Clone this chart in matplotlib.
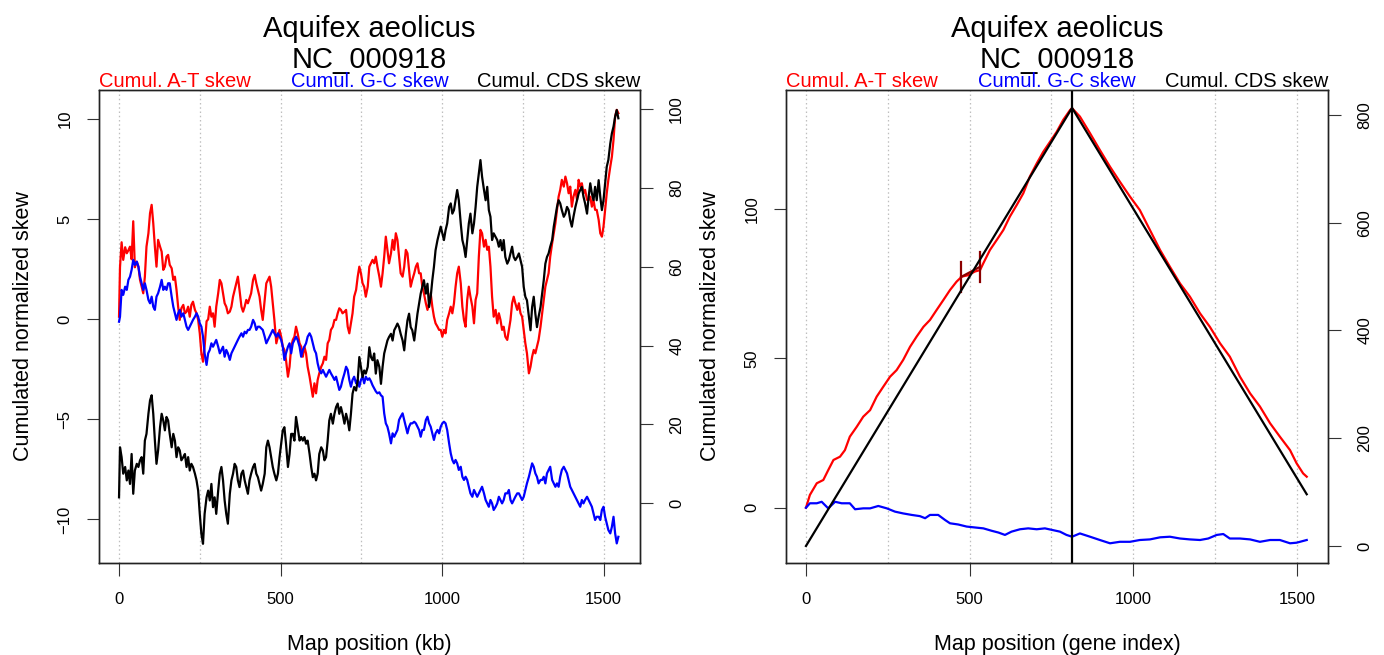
import matplotlib
matplotlib.use("Agg")
import matplotlib.pyplot as plt

plt.rcParams['font.family'] = ['Liberation Sans', 'DejaVu Sans']

# ---------------- chromosome view (position in kb) ----------------
map_kb = [
    0, 3, 8, 13, 19, 24, 29, 34, 39, 44,
    49, 55, 60, 65, 70, 75, 80, 85, 91, 96,
    101, 106, 111, 116, 121, 127, 132, 137, 142, 147,
    152, 157, 163, 168, 173, 178, 183, 188, 193, 199,
    204, 209, 214, 219, 224, 229, 235, 240, 245, 250,
    255, 260, 265, 271, 276, 281, 286, 291, 296, 301,
    307, 312, 317, 322, 327, 332, 337, 343, 348, 353,
    358, 363, 368, 373, 379, 384, 389, 394, 399, 404,
    409, 415, 420, 425, 430, 435, 440, 445, 451, 456,
    461, 466, 471, 476, 481, 487, 492, 497, 502, 507,
    512, 517, 523, 528, 533, 538, 543, 548, 553, 559,
    564, 569, 574, 579, 584, 590, 595, 600, 605, 610,
    615, 620, 626, 631, 636, 641, 646, 651, 656, 662,
    667, 672, 677, 682, 687, 692, 698, 703, 708, 713,
    718, 723, 728, 734, 739, 744, 749, 754, 759, 764,
    770, 775, 780, 785, 790, 795, 800, 806,
    811, 816, 821, 826, 831, 836, 842, 847, 852, 857,
    862, 867, 872, 878, 883, 888, 893, 898, 903, 908,
    914, 919, 924, 929, 934, 939, 944, 950, 955, 960,
    965, 970, 975, 980, 986, 991, 996, 1001, 1006, 1011,
    1016, 1022, 1027, 1032, 1037, 1042, 1047, 1052, 1058, 1063,
    1068, 1073, 1078, 1083, 1088, 1094, 1099, 1104, 1109, 1114,
    1119, 1124, 1130, 1135, 1140, 1145, 1150, 1155, 1160, 1166,
    1171, 1176, 1181, 1186, 1191, 1196, 1202, 1207,
    1212, 1217, 1222, 1227, 1233, 1238, 1243, 1248, 1253, 1258,
    1263, 1269, 1274, 1279, 1284, 1289, 1294, 1299, 1305, 1310,
    1315, 1320, 1325, 1330, 1335, 1341, 1346, 1351, 1356, 1361,
    1366, 1371, 1377, 1382, 1387, 1392, 1397, 1402, 1407, 1413,
    1418, 1423, 1428, 1433, 1438, 1443, 1449, 1454, 1459, 1464,
    1469, 1474, 1479, 1485, 1490, 1495, 1500, 1505, 1510, 1515,
    1521, 1526, 1531, 1536, 1541, 1546,
]

at_skew_kb = [
    0.13, 2.6, 3.85, 2.97, 3.6, 3.3, 3.45, 3.63, 3.0, 4.9,
    2.6, 2.88, 2.63, 1.97, 1.63, 1.3, 2.13, 3.63, 4.3, 5.3,
    5.72, 4.8, 3.63, 2.63, 3.97, 3.63, 3.38, 2.47, 2.63, 3.13,
    3.22, 2.72, 2.55, 1.97, 2.13, 1.47, 0.63, -0.03, 0.55, 0.72,
    0.3, 0.38, 0.63, 0.13, 0.72, 0.88, 0.47, 0.3, -0.03, -0.7,
    -1.7, -2.12, -1.37, -0.1, 0.0, 0.63, 0.13, 0.3, -0.37, 0.63,
    1.3, 1.97, 1.8, 1.3, 0.8, 0.63, 0.3, 0.38, 0.63, 1.13,
    1.47, 1.8, 2.13, 1.47, 0.63, 0.38, 0.63, 0.97, 0.8, 1.05,
    1.3, 1.97, 2.22, 1.8, 1.47, 1.13, 0.47, -0.03, 0.97, 1.8,
    1.97, 2.13, 1.63, 0.8, -0.03, -1.2, -0.87, -0.53, -0.87, -1.37,
    -1.53, -2.03, -2.87, -2.37, -1.37, -1.03, -0.87, -0.37, -0.7, -1.2,
    -1.37, -1.87, -1.37, -1.7, -2.37, -2.87, -3.37, -3.87, -3.2, -3.7,
    -3.03, -2.7, -2.37, -2.2, -1.87, -2.03, -1.2, -1.03, -0.53, -0.37,
    -0.03, -0.03, 0.3, 0.55, 0.47, 0.3, 0.38, 0.47, -0.37, -0.7,
    -0.2, 0.3, 1.13, 1.47, 2.13, 2.63, 2.3, 1.8, 1.63, 1.13,
    1.63, 2.63, 2.8, 2.97, 2.8, 3.13, 2.63, 2.13,
    1.63, 2.3, 3.13, 4.13, 3.47, 2.8, 3.3, 3.97, 3.47, 4.3,
    3.97, 3.13, 2.3, 2.13, 2.63, 3.47, 3.3, 2.47, 1.63, 1.97,
    2.3, 2.63, 2.8, 2.3, 2.3, 1.63, 1.3, 0.8, 0.47, 0.8,
    1.3, 0.63, 0.13, -0.2, -0.37, -0.53, -0.53, -0.87, -0.53, -0.7,
    -0.03, 0.3, 0.63, 0.3, 0.8, 1.63, 2.3, 2.63, 1.8, 0.63,
    -0.03, -0.37, 0.97, 1.63, 1.13, 0.63, -0.2, 0.97, 1.3, 3.13,
    4.47, 4.3, 3.63, 3.97, 3.47, 3.63, 2.63, 1.13, 0.13, 0.47,
    -0.2, 0.3, -0.03, -0.53, -0.37, -0.87, -1.03, -0.53,
    -0.03, 0.8, 1.13, 0.8, 0.47, 0.8, 0.3, 0.13, -0.53, -1.2,
    -1.7, -2.7, -2.37, -1.87, -1.53, -1.7, -1.37, -1.03, -0.37, 0.3,
    0.97, 1.63, 1.97, 2.3, 3.13, 3.8, 4.3, 4.8, 5.47, 6.13,
    6.47, 6.97, 6.63, 7.13, 6.8, 6.3, 6.63, 5.63, 6.13, 6.47,
    5.97, 6.97, 6.63, 6.8, 6.3, 6.47, 5.97, 5.97, 6.13, 5.63,
    5.97, 5.47, 5.47, 4.97, 4.3, 4.13, 4.63, 5.47, 6.3, 6.97,
    7.63, 8.13, 8.97, 10.13, 10.47, 10.3,
]

gc_skew_kb = [
    -0.12, 0.13, 1.47, 1.22, 1.63, 1.47, 1.97, 2.13, 2.47, 2.97,
    2.72, 2.88, 2.63, 2.13, 1.8, 1.47, 1.8, 1.47, 0.97, 0.8,
    1.13, 0.63, 0.47, 1.13, 1.3, 1.63, 1.97, 1.47, 1.63, 1.47,
    1.8, 1.8, 1.13, 0.63, 0.3, -0.03, 0.3, 0.47, 0.13, 0.3,
    -0.03, -0.37, -0.53, -0.37, -0.2, -0.03, 0.13, 0.3, 0.13, -0.2,
    -0.37, -0.87, -1.7, -2.28, -1.7, -1.53, -1.2, -1.37, -1.2, -1.03,
    -1.37, -1.7, -1.53, -1.37, -1.87, -1.53, -1.7, -2.03, -1.7, -1.53,
    -1.37, -1.2, -1.03, -0.87, -0.7, -0.87, -0.62, -0.7, -0.53, -0.53,
    -0.37, -0.03, -0.2, -0.53, -0.37, -0.37, -0.45, -0.53, -0.87, -1.2,
    -1.03, -0.87, -0.7, -0.53, -0.7, -0.87, -0.7, -0.87, -1.03, -1.37,
    -2.03, -1.7, -1.37, -1.2, -1.7, -1.2, -1.03, -0.87, -1.03, -1.37,
    -1.87, -1.53, -1.37, -1.2, -0.87, -0.7, -0.87, -1.2, -1.53, -1.7,
    -2.2, -2.53, -2.7, -2.53, -2.7, -2.87, -2.7, -2.53, -2.7, -2.87,
    -3.03, -2.87, -3.2, -3.53, -3.37, -3.03, -2.7, -2.37, -2.53, -3.03,
    -3.37, -3.03, -2.87, -3.2, -3.03, -3.37, -3.03, -2.87, -3.2, -2.87,
    -3.03, -2.95, -3.1, -3.3, -3.45, -3.6, -3.7, -3.65,
    -3.8, -3.87, -4.7, -5.2, -5.37, -5.7, -6.2, -5.7, -5.87, -5.7,
    -5.53, -5.03, -4.87, -4.7, -5.03, -5.37, -5.7, -5.37, -5.2, -5.2,
    -5.12, -5.2, -5.37, -5.53, -5.87, -5.53, -5.53, -5.03, -4.87, -5.2,
    -5.37, -5.7, -6.03, -5.7, -5.53, -5.7, -5.37, -5.2, -5.12, -5.2,
    -5.53, -6.2, -6.7, -7.03, -7.2, -7.03, -7.2, -7.53, -7.37, -7.87,
    -8.03, -7.87, -8.03, -8.37, -8.7, -8.87, -8.53, -8.7, -8.87, -8.7,
    -8.53, -8.37, -8.7, -9.03, -9.2, -9.37, -9.03, -9.2, -9.53, -9.37,
    -9.2, -8.87, -9.03, -9.2, -9.03, -8.7, -8.7, -8.53,
    -9.03, -9.2, -9.03, -8.87, -8.7, -8.7, -8.87, -9.03, -8.87, -8.53,
    -8.2, -7.87, -7.53, -7.2, -7.37, -7.7, -7.87, -8.2, -8.03, -8.03,
    -7.87, -8.2, -7.7, -7.53, -7.37, -8.03, -8.2, -8.37, -8.2, -8.37,
    -7.87, -7.53, -7.37, -7.53, -7.7, -8.03, -8.37, -8.53, -8.7, -8.87,
    -9.03, -9.2, -9.37, -9.03, -9.2, -9.03, -8.87, -9.03, -9.2, -9.37,
    -9.7, -10.03, -9.87, -9.87, -10.03, -9.53, -9.37, -9.87, -10.2, -10.53,
    -10.7, -10.37, -9.87, -10.7, -11.2, -10.87,
]

cds_skew_kb = [
    1.5, 14.2, 11.7, 7.5, 9.2, 5.8, 8.3, 4.9, 12.5, 2.4,
    8.3, 10.0, 9.2, 10.9, 11.7, 7.5, 15.9, 17.6, 22.7, 26.1,
    27.4, 22.7, 15.9, 10.0, 13.4, 19.3, 22.7, 21.0, 18.5, 21.9,
    21.0, 17.6, 14.2, 17.6, 15.9, 11.7, 14.2, 13.4, 10.9, 11.7,
    12.5, 9.2, 11.7, 8.3, 10.0, 9.2, 7.5, 5.8, 3.2, -2.7,
    -7.8, -10.3, -2.7, 1.5, 3.2, 0.7, 4.9, -1.0, 1.5, -2.7,
    3.2, 7.5, 9.2, 5.8, 0.7, -2.7, -5.2, 2.4, 5.8, 7.5,
    10.0, 9.2, 5.8, 4.1, 7.5, 8.3, 5.8, 4.1, 2.4, 5.8,
    7.5, 9.2, 10.0, 7.5, 6.6, 4.9, 3.2, 4.9, 7.5, 14.2,
    15.9, 14.2, 11.7, 9.2, 7.5, 5.8, 7.5, 11.7, 15.1, 18.5,
    19.3, 15.1, 9.2, 12.5, 17.6, 17.6, 15.9, 21.9, 19.3, 15.9,
    16.8, 15.9, 16.8, 15.1, 15.9, 12.5, 9.2, 6.6, 7.5, 5.8,
    7.5, 12.5, 14.2, 13.4, 10.9, 11.7, 15.9, 21.0, 22.7, 20.2,
    22.7, 24.4, 25.3, 22.7, 24.4, 22.7, 20.2, 22.7, 21.0, 18.5,
    22.7, 27.8, 29.5, 28.6, 31.2, 37.1, 34.6, 32.0, 33.7, 32.9,
    34.6, 39.6, 37.1, 36.3, 38.0, 32.9, 36.3, 34.6,
    30.3, 34.6, 38.0, 39.6, 41.3, 42.2, 43.0, 41.3, 43.9, 44.7,
    45.6, 44.7, 43.0, 41.3, 38.8, 43.0, 46.4, 48.1, 44.7, 43.9,
    41.3, 44.7, 48.1, 50.7, 53.2, 54.9, 56.6, 53.2, 55.7, 49.8,
    52.4, 56.6, 60.0, 64.2, 66.8, 68.5, 70.2, 68.5, 66.8, 69.3,
    71.0, 75.2, 76.1, 73.5, 74.4, 76.9, 79.5, 76.9, 71.0, 66.8,
    65.1, 62.5, 66.8, 71.0, 73.5, 68.5, 71.0, 75.2, 80.3, 83.7,
    87.1, 82.9, 79.5, 76.9, 80.3, 74.4, 72.7, 66.8, 68.5, 67.6,
    66.8, 65.1, 66.8, 64.2, 66.8, 62.5, 60.8, 61.7,
    63.4, 65.1, 62.5, 61.7, 62.5, 63.4, 61.7, 60.0, 54.9, 52.4,
    51.5, 47.3, 43.9, 49.8, 52.4, 48.1, 44.7, 47.3, 49.8, 53.2,
    56.6, 60.8, 62.5, 63.4, 65.1, 66.8, 70.2, 72.7, 75.2, 76.9,
    76.1, 74.4, 72.7, 73.5, 75.2, 74.4, 71.8, 70.2, 72.7, 75.2,
    76.9, 78.6, 79.5, 80.3, 77.8, 76.1, 73.5, 77.8, 81.2, 78.6,
    76.9, 80.3, 76.9, 82.0, 77.8, 74.4, 76.9, 81.2, 85.4, 87.1,
    91.3, 93.9, 95.6, 98.1, 99.8, 97.7,
]

# ---------------- gene-order view (gene index) ----------------
gene_at = [0, 12, 33, 53, 68, 84, 104, 119, 134, 155, 175, 196, 216, 236, 257,
           277, 297, 318, 338, 359, 379, 399, 420, 440, 460, 476, 496, 516, 532,
           542, 562, 583, 603, 623, 644, 664, 684, 705, 725, 746, 766, 786, 807,
           813, 837, 868, 898, 929, 959, 990, 1020, 1051, 1082, 1112, 1143, 1173,
           1204, 1234, 1265, 1295, 1326, 1357, 1387, 1418, 1448, 1479, 1499, 1519,
           1530]
at_skew_gene = [0.0, 4.3, 8.2, 9.3, 12.6, 16.0, 17.1, 19.3, 23.8, 27.1, 30.5, 32.7,
                37.2, 40.5, 43.9, 46.1, 49.5, 53.9, 57.3, 60.6, 62.9, 66.2, 69.6,
                72.9, 75.7, 77.4, 77.9, 79.1, 79.6, 81.9, 86.3, 89.7, 93.0, 97.5,
                101.4, 105.3, 110.9, 115.3, 119.2, 122.6, 125.9, 129.9, 133.2,
                133.8, 131.0, 125.4, 119.8, 114.2, 109.2, 104.2, 99.7, 93.0, 86.3,
                80.7, 75.1, 70.7, 65.1, 60.6, 55.1, 50.6, 43.9, 38.3, 33.9, 28.3,
                23.8, 19.3, 14.9, 11.5, 10.4]

gene_gc = [0, 12, 33, 48, 68, 89, 109, 134, 150, 175, 196, 221, 247, 272, 297, 323,
           348, 364, 379, 404, 425, 440, 465, 491, 516, 542, 567, 588, 608, 628,
           654, 679, 705, 730, 751, 776, 796, 813, 837, 868, 898, 929, 959, 990,
           1020, 1051, 1082, 1112, 1143, 1173, 1204, 1229, 1255, 1275, 1295, 1326,
           1357, 1387, 1418, 1448, 1479, 1499, 1530]
gc_skew_gene = [0.0, 1.5, 1.5, 2.0, -0.2, 2.0, 1.5, 1.5, -0.5, -0.2, -0.2, 0.6,
                -0.2, -1.3, -1.9, -2.4, -2.8, -3.5, -2.4, -2.4, -4.1, -5.2, -5.6,
                -6.3, -6.6, -6.9, -7.7, -8.3, -9.1, -8.0, -7.2, -6.9, -7.2, -6.9,
                -7.4, -8.0, -9.1, -9.7, -8.6, -9.7, -10.8, -11.9, -11.4, -11.4,
                -10.8, -10.6, -9.9, -9.7, -10.3, -10.6, -10.8, -10.3, -9.1, -8.8,
                -10.3, -10.3, -10.6, -11.4, -10.8, -10.8, -11.9, -11.7, -10.8]

gene_cds = [0, 813, 1530]
cds_skew_gene = [0, 813, 96]
origin_gene = 813
at_mark_gene = [474, 532]
at_mark_value = [77.3, 80.7]

grid_x = [0, 250, 500, 750, 1000, 1250, 1500]
x_ticks = [0, 500, 1000, 1500]

RED, BLUE, BLACK = '#FF0000', '#0000FF', '#000000'
LW = 1.6
TICK_FS, LAB_FS = 12, 15.5

W, H = 1384, 655
fig = plt.figure(figsize=(W / 100, H / 100), dpi=100)


def box(x0, x1, ytop, ybot):
    return [x0 / W, 1 - ybot / H, (x1 - x0) / W, (ybot - ytop) / H]


def style(ax, twin, xlim, ylim, ylim2, yticks, yticks2, xlabel):
    ax.set_xlim(*xlim)
    ax.set_ylim(*ylim)
    twin.set_ylim(*ylim2)
    for g in grid_x:
        ax.axvline(g, color='#BEBEBE', lw=0.9, ls=(0, (1.2, 2.2)), zorder=0)
    ax.set_xticks(x_ticks)
    ax.set_yticks(yticks)
    twin.set_yticks(yticks2)
    ax.tick_params(axis='x', direction='out', length=9, width=0.8,
                   color='#333333', labelsize=TICK_FS, pad=12)
    ax.tick_params(axis='y', direction='out', length=9, width=0.8,
                   color='#333333', labelsize=TICK_FS, pad=10, labelrotation=90)
    twin.tick_params(axis='y', direction='out', length=9, width=0.8,
                     color='#333333', labelsize=TICK_FS, pad=12, labelrotation=90)
    for lab in ax.get_yticklabels():
        lab.set_va('center')
    for lab in twin.get_yticklabels():
        lab.set_va('center')
    for a in (ax, twin):
        for s in a.spines.values():
            s.set_linewidth(1.0)
            s.set_color('#222222')
    ax.set_xlabel(xlabel, fontsize=LAB_FS, labelpad=19)
    ax.set_ylabel('Cumulated normalized skew', fontsize=LAB_FS, labelpad=17)


def headers(ax):
    pos = ax.get_position()
    xc = (pos.x0 + pos.x1) / 2
    fig.text(xc, 1 - 37 / H, 'Aquifex aeolicus', ha='center', va='baseline',
             fontsize=21)
    fig.text(xc, 1 - 68 / H, 'NC_000918', ha='center', va='baseline',
             fontsize=21)
    yb = 1 - 87 / H
    fig.text(pos.x0, yb, 'Cumul. A-T skew', color=RED, ha='left',
             va='baseline', fontsize=14.5)
    fig.text(xc, yb, 'Cumul. G-C skew', color=BLUE, ha='center',
             va='baseline', fontsize=14.5)
    fig.text(pos.x1, yb, 'Cumul. CDS skew', color=BLACK, ha='right',
             va='baseline', fontsize=14.5)


# left panel: skews along the chromosome
ax1 = fig.add_axes(box(99, 640, 90, 563))
tw1 = ax1.twinx()
ax1.plot(map_kb, at_skew_kb, color=RED, lw=LW)
ax1.plot(map_kb, gc_skew_kb, color=BLUE, lw=LW)
tw1.plot(map_kb, cds_skew_kb, color=BLACK, lw=LW)
style(ax1, tw1, (-62, 1613), (-12.18, 11.46), (-15.17, 104.88),
      [-10, -5, 0, 5, 10], [0, 20, 40, 60, 80, 100], 'Map position (kb)')
headers(ax1)

# right panel: skews along the gene order
ax2 = fig.add_axes(box(786, 1328, 90, 563))
tw2 = ax2.twinx()
ax2.plot(gene_at, at_skew_gene, color=RED, lw=LW)
ax2.plot(gene_gc, gc_skew_gene, color=BLUE, lw=LW)
tw2.plot(gene_cds, cds_skew_gene, color=BLACK, lw=LW)
tw2.axvline(origin_gene, color=BLACK, lw=LW)
for g, v in zip(at_mark_gene, at_mark_value):
    ax2.plot([g, g], [v - 5, v + 5], color='#8B0000', lw=LW)
ax2.plot(at_mark_gene, at_mark_value, color='#8B0000', lw=LW)
style(ax2, tw2, (-61, 1595), (-18.5, 139.9), (-31.6, 846.3),
      [0, 50, 100], [0, 200, 400, 600, 800], 'Map position (gene index)')
headers(ax2)

fig.savefig('out.png', dpi=100)
